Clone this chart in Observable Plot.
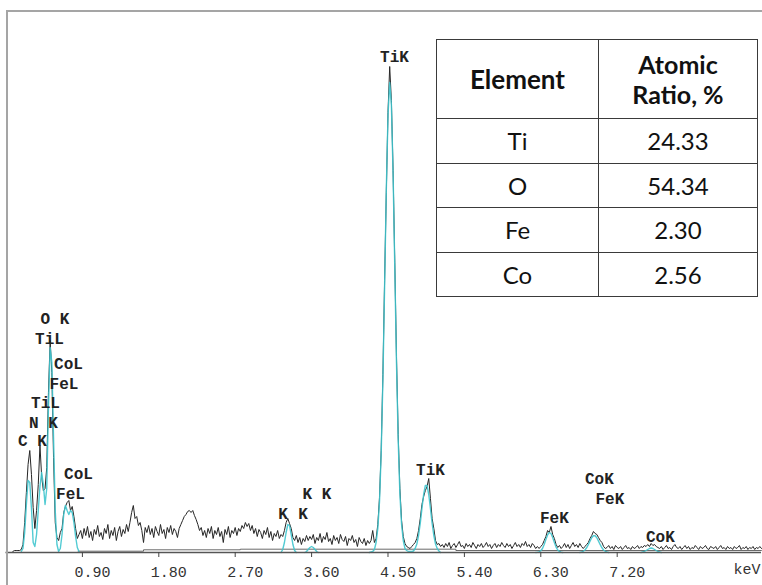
<!DOCTYPE html>
<html><head><meta charset="utf-8">
<script src="https://cdn.jsdelivr.net/npm/d3@7"></script>
<script src="https://cdn.jsdelivr.net/npm/@observablehq/plot@0.6"></script>
<style>
html,body{margin:0;padding:0;background:#fff;}
#wrap{position:relative;width:762px;height:585px;overflow:hidden;background:#fff;}
#frame{position:absolute;left:6px;top:10px;right:-10px;bottom:-10px;border-left:2px solid #a5a5a5;border-top:2px solid #a5a5a5;pointer-events:none;}
#tbl{position:absolute;left:436px;top:39px;border-collapse:collapse;table-layout:fixed;width:321px;font-family:Lato,"Open Sans",sans-serif;color:#111;background:#fff;}
#tbl td,#tbl th{border:1.5px solid #3a3a3a;text-align:center;padding:0;}
#tbl th{font-weight:bold;font-size:26px;line-height:30px;height:78px;}
#tbl td{font-size:24px;height:43.5px;}
</style></head>
<body><div id="wrap"></div>
<script>
// EDS spectrum, channel width 0.02 keV
const CHANNEL_KEV = 0.02;
const countsStart = 4;
const counts = [
  1, 2, 2, 2, 2, 3,
  8, 30, 60, 88, 102, 78, 45, 24, 42, 68,
  107, 76, 62, 64, 85, 160, 212, 180, 95, 30,
  15, 12, 20, 24, 40, 46, 50, 52, 42, 46,
  36, 24, 14, 18, 22, 14, 24, 17, 26, 15,
  21, 12, 23, 18, 27, 16, 20, 13, 24, 19,
  28, 14, 22, 17, 25, 12, 21, 26, 16, 23,
  19, 28, 21, 30, 40, 47, 34, 36, 27, 30,
  22, 10, 25, 20, 27, 18, 24, 15, 26, 21,
  17, 28, 19, 23, 14, 25, 20, 27, 18, 24,
  21, 15, 24, 28, 32, 36, 38, 41, 42, 40,
  42, 37, 33, 28, 22, 25, 17, 22, 15, 24,
  19, 26, 14, 22, 18, 25, 16, 21, 10, 23,
  18, 26, 15, 22, 19, 25, 17, 24, 21, 27,
  24, 30, 26, 29, 22, 27, 19, 24, 16, 23,
  20, 14, 22, 18, 25, 15, 21, 12, 19, 16,
  22, 14, 18, 16, 22, 30, 34, 29, 24, 15,
  12, 17, 10, 15, 8, 14, 11, 17, 12, 16,
  13, 18, 9, 15, 12, 19, 10, 16, 13, 20,
  11, 14, 8, 17, 12, 15, 9, 18, 13, 11,
  16, 7, 14, 12, 17, 10, 13, 6, 15, 11,
  9, 14, 7, 12, 9, 12, 22, 10, 14, 28,
  55, 102, 178, 272, 360, 440, 486, 452, 382, 290,
  196, 118, 64, 32, 16, 9, 6, 5, 4, 6,
  8, 10, 14, 22, 34, 48, 56, 62, 66, 74,
  54, 34, 24, 12, 8, 9, 6, 8, 5, 9,
  6, 10, 4, 7, 9, 5, 8, 11, 6, 7,
  4, 9, 6, 8, 5, 10, 7, 4, 8, 6,
  9, 5, 7, 10, 6, 8, 4, 7, 9, 5,
  8, 6, 10, 7, 5, 9, 6, 8, 4, 7,
  10, 6, 8, 5, 9, 7, 11, 6, 8, 5,
  9, 7, 4, 6, 4, 6, 8, 12, 16, 22,
  20, 26, 18, 14, 8, 5, 7, 4, 6, 9,
  5, 8, 4, 7, 10, 6, 8, 5, 9, 6,
  4, 6, 8, 10, 14, 17, 21, 19, 18, 15,
  12, 10, 6, 4, 5, 7, 4, 6, 3, 7,
  5, 4, 6, 3, 5, 7, 4, 5, 3, 6,
  4, 5, 7, 4, 6, 5, 7, 6, 8, 6,
  9, 7, 8, 6, 5, 4, 6, 3, 5, 7,
  4, 5, 3, 6, 8, 5, 4, 6, 3, 5,
  7, 4, 6, 3, 5, 4, 7, 5, 3, 6,
  4, 5, 7, 4, 3, 6, 5, 4, 6, 3,
  5, 7, 4, 5, 3, 6, 4, 5, 3, 6,
  4, 5, 7, 3, 5, 4, 6, 3, 5, 4,
  6, 3, 5, 4, 6, 4
];

// fitted (cyan) peak profiles, each with its first channel
const fitNames  = ["low", "K", "Kb", "Ti", "Fe", "Co", "CoKb"];
const fitStarts = [9, 162, 176, 214, 312, 338, 374];
const fitLow  = [1, 4, 20, 48, 72, 70, 44, 10, 6, 18, 42, 66, 80, 68, 48, 64, 145, 205, 190, 115, 42, 8, 1, 4, 18, 38, 47, 42, 38, 42, 40, 30, 16, 5, 1];
const fitK    = [0, 3, 10, 20, 28, 27, 18, 8, 2, 0];
const fitKb   = [0, 1, 3, 5, 6, 5, 3, 1, 0];
const fitTi   = [0, 0.5, 1, 3, 10, 24, 51, 100, 173, 266, 362, 437, 470, 448, 379, 285, 190, 113, 59, 28, 12, 4, 2, 1, 1, 1, 1.5, 4, 8.5, 17, 29, 44, 58, 67, 67, 58, 44, 29, 17, 8.5, 4, 1.5, 0];
const fitFe   = [0, 0.2, 0.6, 1.8, 4, 8, 13, 17.6, 20, 19, 15, 10, 5.4, 2.5, 1, 0.3, 0];
const fitCo   = [0, 0.5, 1.2, 2.5, 4.7, 7.8, 11.4, 14.7, 16.7, 16.7, 14.7, 11.4, 7.8, 4.7, 2.5, 1.2, 0.5, 0];
const fitCoKb = [0, 0.5, 1, 2, 3, 4, 4.5, 4, 3, 2, 1, 0.5, 0];
const fitValues = [fitLow, fitK, fitKb, fitTi, fitFe, fitCo, fitCoKb];

// continuum background (step)
const bgKeV    = [0.85, 1.62, 2.76, 5.3, 8.9];
const bgCounts = [1.3, 2.7, 3.3, 2.0, 2.0];

// peak labels
const peakLabels  = ["O K","TiL","CoL","FeL","TiL","N K","C K","CoL","FeL","K","K","K K","TiK","TiK","FeK","CoK","FeK","CoK"];
const labelKeV    = [0.577,0.512,0.736,0.683,0.465,0.442,0.312,0.854,0.760,3.263,3.498,3.663,4.576,5.000,6.460,6.990,7.114,7.709];
const labelCounts = [234,214,189,169,150,130,112,79,59,39,39,59,496,83,35,74,54,16];

const xTicks = [0.9, 1.8, 2.7, 3.6, 4.5, 5.4, 6.3, 7.2];

// table
const elements = ["Ti", "O", "Fe", "Co"];
const ratios = ["24.33", "54.34", "2.30", "2.56"];

const spectrum = counts.map((c, i) => ({keV: (i + countsStart) * CHANNEL_KEV, counts: c}));
const fitRows = fitValues.flatMap((arr, k) => arr.map((v, j) => ({peak: fitNames[k], keV: (fitStarts[k] + j) * CHANNEL_KEV, counts: v})));
const bgRows = bgKeV.map((k, i) => ({keV: k, counts: bgCounts[i]}));
const labelRows = peakLabels.map((t, i) => ({text: t, keV: labelKeV[i], counts: labelCounts[i]}));

const mono = "'Liberation Mono', 'DejaVu Sans Mono', monospace";

const chart = Plot.plot({
  width: 762,
  height: 585,
  marginLeft: 5.5,
  marginRight: 1,
  marginTop: 11,
  marginBottom: 33,
  style: {fontFamily: mono, fontSize: "15px", color: "#333", background: "transparent"},
  x: {domain: [0, 8.9], axis: null},
  y: {domain: [0, 541], axis: null},
  marks: [
    Plot.line(bgRows, {x: "keV", y: "counts", curve: "step-after", stroke: "#444", strokeWidth: 0.8}),
    Plot.line(spectrum, {x: "keV", y: "counts", stroke: "#262626", strokeWidth: 1}),
    Plot.line(fitRows, {x: "keV", y: "counts", z: "peak", stroke: "#3fc5ce", strokeWidth: 1.4, strokeOpacity: 0.9}),
    Plot.ruleY([0], {stroke: "#555", strokeWidth: 1.5}),
    Plot.axisX({ticks: xTicks, tickSize: 5, tickFormat: () => "", label: null, stroke: "#444"}),
    Plot.axisX({ticks: xTicks, tickSize: 0, tickPadding: 14, dx: 10, tickFormat: d3.format(".2f"), label: null, fontSize: 15, fill: "#333"}),
    Plot.text(["keV"], {text: d => d, frameAnchor: "bottom-right", dx: -1, dy: 21, textAnchor: "end", fontSize: 15, fill: "#333"}),
    Plot.text(labelRows, {x: "keV", y: "counts", text: "text", fontSize: 16, fontWeight: "bold", fill: "#222"})
  ]
});

const wrap = document.getElementById("wrap");
wrap.appendChild(chart);
const frame = document.createElement("div");
frame.id = "frame";
wrap.appendChild(frame);

const tbl = document.createElement("table");
tbl.id = "tbl";
tbl.innerHTML =
  '<colgroup><col style="width:162px"><col style="width:159px"></colgroup>' +
  '<tr><th>Element</th><th style="font-size:25px">Atomic<br>Ratio, %</th></tr>' +
  elements.map((e, i) => `<tr><td>${e}</td><td>${ratios[i]}</td></tr>`).join("");
wrap.appendChild(tbl);
</script></body></html>
